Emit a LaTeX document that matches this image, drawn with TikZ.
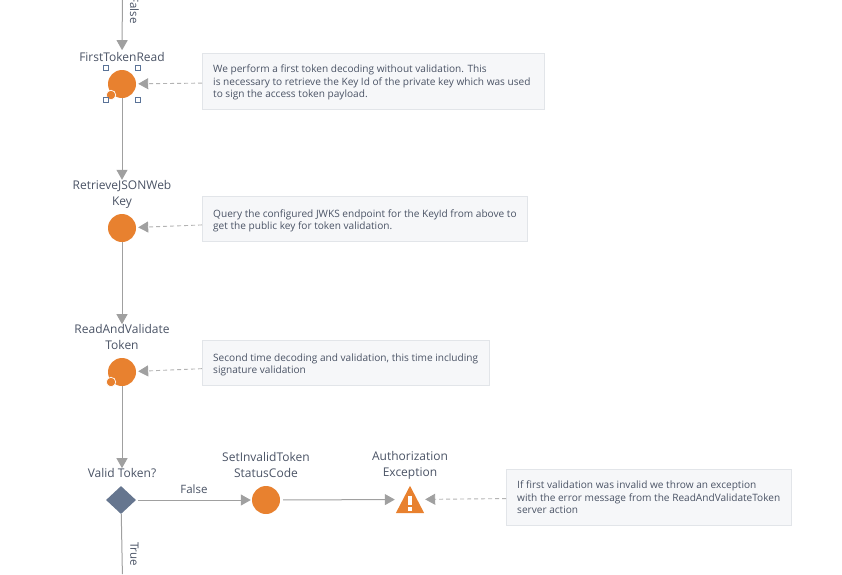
\documentclass[tikz,border=0pt]{standalone}
\usepackage{fontspec}
\setmainfont{Open Sans}
\usetikzlibrary{arrows.meta,shapes.geometric}

\definecolor{actionorange}{HTML}{E8812F}
\definecolor{ifslate}{HTML}{66768F}
\definecolor{flowgray}{HTML}{A0A0A0}
\definecolor{inktext}{HTML}{4A5365}
\definecolor{notefill}{HTML}{F6F7F9}
\definecolor{noteline}{HTML}{E2E5E9}
\definecolor{handleblue}{HTML}{5A7398}

\tikzset{
  action/.style={circle, fill=actionorange, minimum size=28pt, inner sep=0pt},
  nodelabel/.style={text=inktext, font=\fontsize{12}{16}\selectfont, align=center, inner sep=0pt},
  edgelabel/.style={text=inktext, font=\fontsize{11.5}{14}\selectfont, inner sep=0pt},
  note/.style={draw=noteline, fill=notefill, text=inktext, font=\fontsize{10.1}{12.2}\selectfont, align=left, anchor=north west, inner xsep=11pt, inner ysep=0pt, text depth=0pt},
  flow/.style={draw=flowgray, line width=1pt, -{Triangle[length=10pt,width=11pt]}},
  comment/.style={draw=flowgray!80, line width=0.9pt, dash pattern=on 4pt off 3pt, -{Triangle[length=10pt,width=11pt,color=flowgray,fill=flowgray]}},
  subflow/.style={circle, fill=actionorange, draw=white, line width=0.7pt, minimum size=9.5pt, inner sep=0pt},
  handle/.style={draw=handleblue, fill=white, line width=0.8pt, minimum size=5.5pt, inner sep=0pt}
}

\begin{document}
\begin{tikzpicture}[x=1pt, y=-1pt]

\path[use as bounding box, clip] (0, 0) rectangle (842, 574);

\coordinate (top) at (122.4, 0);
\coordinate (bottom) at (122.4, 574);

\node[action] (first) at (122, 84) {};
\node[action] (retrieve) at (122, 228) {};
\node[action] (readvalidate) at (122, 372) {};
\node[action] (setinvalid) at (266, 500) {};
\node[diamond, fill=ifslate, aspect=1.07, minimum width=30pt, minimum height=28pt, inner sep=0pt] (validtoken) at (121, 500) {};
\node[minimum width=28pt, minimum height=27pt, inner sep=0pt] (authexception) at (410, 499.5) {};

\fill[actionorange] (authexception.south west) -- (authexception.south east) -- (authexception.north) -- cycle;
\fill[white] (408, 495.5) rectangle (412.2, 505);
\fill[white] (408, 507) rectangle (412.2, 510.5);

\node[subflow] (firstsub) at (111, 95) {};
\node[subflow] (readsub) at (111, 382) {};

\node[handle] (handlea) at (106, 68) {};
\node[handle] (handleb) at (138, 68) {};
\node[handle] (handlec) at (106, 100) {};
\node[handle] (handled) at (138, 100) {};

\node[nodelabel] (firstlabel) at (122, 57) {FirstTokenRead};
\node[nodelabel] (retrievelabel) at (122, 194) {RetrieveJSONWeb\\Key};
\node[nodelabel] (readlabel) at (122, 337) {ReadAndValidate\\Token};
\node[nodelabel] (validlabel) at (122, 473) {Valid Token?};
\node[nodelabel] (setlabel) at (266, 465) {SetInvalidToken\\StatusCode};
\node[nodelabel] (authlabel) at (410, 465) {Authorization\\Exception};

\node[edgelabel, rotate=-90] (falsetop) at (134.5, 10) {False};
\node[edgelabel] (falseright) at (194, 489) {False};
\node[edgelabel, rotate=-90] (truebottom) at (134.5, 554) {True};

\node[note, minimum height=56pt] (firstnote) at (202, 53) {\makebox[320pt][l]{We perform a first token decoding without validation. This}\\is necessary to retrieve the Key Id of the private key which was used\\to sign the access token payload.};
\node[note, minimum height=45pt] (retrievenote) at (202, 196) {\rule{0pt}{9.8pt}\makebox[303pt][l]{Query the configured JWKS endpoint for the KeyId from above to}\\get the public key for token validation.};
\node[note, minimum height=45pt] (readnote) at (202, 340) {\rule{0pt}{9.8pt}\makebox[265pt][l]{Second time decoding and validation, this time including}\\signature validation};
\node[note, minimum height=56pt] (authnote) at (506, 469) {\makebox[263pt][l]{If first validation was invalid we throw an exception}\\with the error message from the ReadAndValidateToken\\server action};

\draw[flow, shorten >=2pt] (top) -- (firstlabel);
\draw[flow] (first) -- (retrievelabel);
\draw[flow] (retrieve) -- (readlabel);
\draw[flow] (readvalidate) -- (validlabel);
\draw[flow, shorten <=2pt, shorten >=1pt] (validtoken) -- (setinvalid);
\draw[flow, shorten <=3pt, shorten >=1pt] (setinvalid) -- (authexception);
\draw[draw=flowgray, line width=1pt] (validtoken) -- (bottom);

\draw[comment, shorten >=2pt] (firstnote) -- (first);
\draw[comment, shorten >=2pt] (retrievenote) -- (retrieve);
\draw[comment, shorten >=2pt] (readnote) -- (readvalidate);
\draw[comment, shorten >=1pt] (authnote) -- (authexception);

\end{tikzpicture}
\end{document}
